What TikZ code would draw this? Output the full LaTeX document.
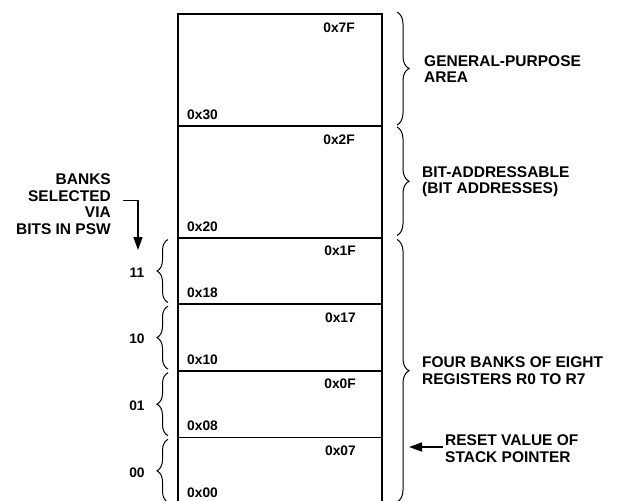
\documentclass[tikz,border=0pt]{standalone}
\usepackage{fontspec}
\setmainfont{Liberation Sans}
\usetikzlibrary{decorations.pathreplacing,arrows.meta}
\begin{document}
\begin{tikzpicture}[x=1pt,y=-1pt,
  mem/.style={draw, line width=1.8pt, rectangle, inner sep=0pt, outer sep=0pt, minimum width=204pt},
  addr/.style={font=\fontsize{13.8}{15}\bfseries\selectfont, inner sep=0pt},
  lab/.style={font=\fontsize{15.5}{16.5}\bfseries\selectfont, inner sep=0pt, align=left, anchor=north west},
  bank/.style={font=\fontsize{13.8}{15}\bfseries\selectfont, inner sep=0pt},
  rbrace/.style={decorate, decoration={brace, amplitude=12pt}, line width=1pt},
  lbrace/.style={decorate, decoration={brace, amplitude=11pt}, line width=1pt},
  arr/.style={line width=1.7pt, -{Triangle[length=13pt, width=9pt]}}
]
\useasboundingbox (0,0) rectangle (619,501);

% memory sections
\node[mem, minimum height=112pt]   (gp) at (280,70) {};
\node[mem, minimum height=111.7pt] (ba) at (280,181.85) {};
\node[mem, minimum height=66.6pt]  (b3) at (280,271) {};
\node[mem, minimum height=66.6pt]  (b2) at (280,337.6) {};
\node[mem, minimum height=66.6pt]  (b1) at (280,404.2) {};
\node[mem, minimum height=66.6pt]  (b0) at (280,470.8) {};

% address labels
\node[addr, anchor=base east] (a7f) at (355,32.5) {0x7F};
\node[addr, anchor=base west] (a30) at (187,119.4) {0x30};
\node[addr, anchor=base east] (a2f) at (355,144.5) {0x2F};
\node[addr, anchor=base west] (a20) at (187,231.1) {0x20};
\node[addr, anchor=base east] (a1f) at (356,255.5) {0x1F};
\node[addr, anchor=base west] (a18) at (187,297.7) {0x18};
\node[addr, anchor=base east] (a17) at (356,322.1) {0x17};
\node[addr, anchor=base west] (a10) at (187,364.3) {0x10};
\node[addr, anchor=base east] (a0f) at (356,388.7) {0x0F};
\node[addr, anchor=base west] (a08) at (187,430.9) {0x08};
\node[addr, anchor=base east] (a07) at (356,455.3) {0x07};
\node[addr, anchor=base west] (a00) at (187,497.5) {0x00};

% right braces
\coordinate (gpT) at (397,12);   \coordinate (gpB) at (397,125);
\coordinate (baT) at (397,127);  \coordinate (baB) at (397,235.5);
\coordinate (fbT) at (397,239.5);\coordinate (fbB) at (397,502);
\draw[rbrace] (gpT) -- (gpB);
\draw[rbrace] (baT) -- (baB);
\draw[rbrace] (fbT) -- (fbB);

% right labels
\node[lab] (lgp) at (424,55) {GENERAL-PURPOSE\\AREA};
\node[lab] (lba) at (422,166) {BIT-ADDRESSABLE\\(BIT ADDRESSES)};
\node[lab] (lfb) at (422,356.5) {FOUR BANKS OF EIGHT\\REGISTERS R0 TO R7};
\node[lab] (lsp) at (445,434.5) {RESET VALUE OF\\STACK POINTER};
\coordinate (spTip) at (409,447);
\draw[arr] (lsp.west |- spTip) ++(-2,0) coordinate (spS) -- (spTip);

% left braces
\coordinate (l3T) at (168,239.5); \coordinate (l3B) at (168,302.5);
\coordinate (l2T) at (168,306.1); \coordinate (l2B) at (168,369.1);
\coordinate (l1T) at (168,372.7); \coordinate (l1B) at (168,435.7);
\coordinate (l0T) at (168,439.3); \coordinate (l0B) at (168,502.3);
\draw[lbrace] (l3B) -- (l3T);
\draw[lbrace] (l2B) -- (l2T);
\draw[lbrace] (l1B) -- (l1T);
\draw[lbrace] (l0B) -- (l0T);

\node[bank] (n11) at (137,272.5) {11};
\node[bank] (n10) at (137,339.1) {10};
\node[bank] (n01) at (137,405.7) {01};
\node[bank] (n00) at (137,472.3) {00};

% banks selected label + arrow
\node[lab, align=right, anchor=north east] (sel) at (111,173.5) {BANKS\\SELECTED\\VIA\\BITS IN PSW};
\coordinate (selS) at (123,200.5);
\coordinate (selC) at (138,200.5);
\coordinate (selE) at (138,250);
\draw[arr] (selS) -- (selC) -- (selE);
\end{tikzpicture}
\end{document}
